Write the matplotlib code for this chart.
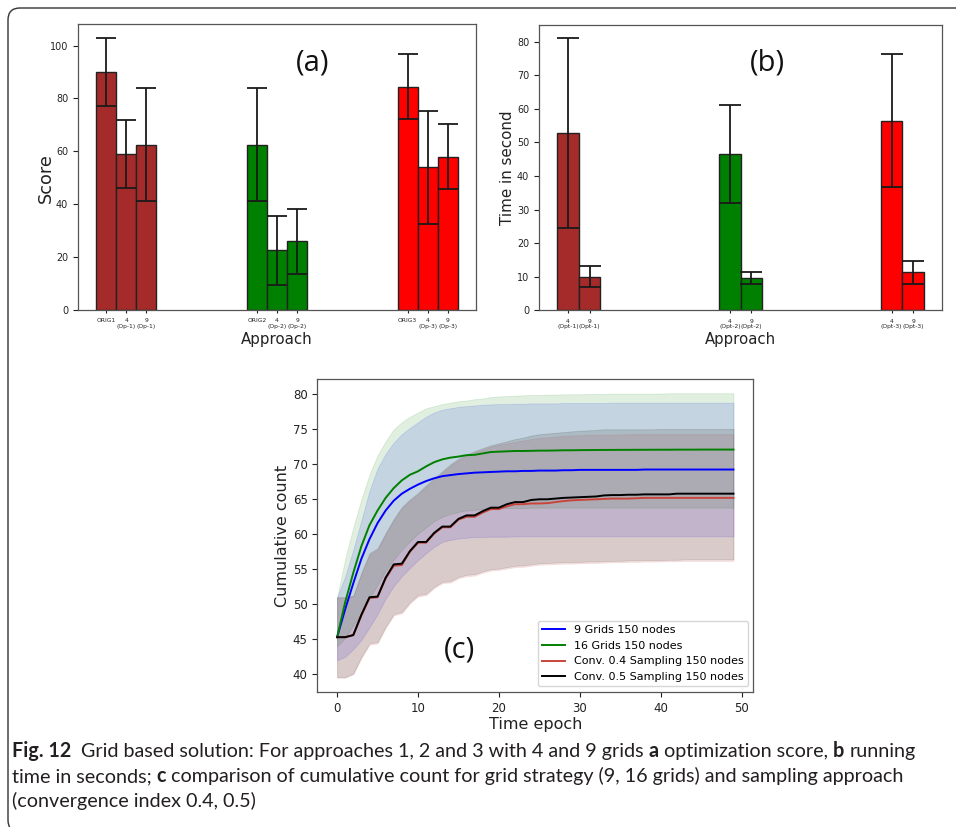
"""Fig. 12: grid based solution, score / running time / cumulative count."""

import matplotlib
matplotlib.use("Agg")
import matplotlib.pyplot as plt
from matplotlib.patches import FancyBboxPatch
import numpy as np

W, H, DPI = 956, 827, 100

# ---- panel (a): optimization score ----
score_labels = ["ORIG1", "4\n(Op-1)", "9\n(Op-1)",
                "ORIG2", "4\n(Op-2)", "9\n(Op-2)",
                "ORIG3", "4\n(Op-3)", "9\n(Op-3)"]
score_vals = [90.0, 59.0, 62.5, 62.5, 22.5, 26.0, 84.5, 54.0, 58.0]
score_err = [13.0, 13.0, 21.4, 21.4, 13.0, 12.3, 12.2, 21.4, 12.2]

# ---- panel (b): running time ----
time_labels = ["4\n(Opt-1)", "9\n(Opt-1)",
               "4\n(Opt-2)", "9\n(Opt-2)",
               "4\n(Opt-3)", "9\n(Opt-3)"]
time_vals = [52.7, 10.0, 46.5, 9.5, 56.4, 11.3]
time_err = [28.3, 3.2, 14.6, 1.8, 19.8, 3.5]

group_colors = ["brown", "green", "red"]

# ---- panel (c): cumulative count ----
epochs = np.arange(50)

blue_mean = [45.3, 49.3, 53.0, 56.5, 59.3, 61.6, 63.4, 64.8, 65.8, 66.5,
             67.1, 67.6, 68.0, 68.3, 68.45, 68.6, 68.7, 68.8, 68.85, 68.9,
             68.95, 69.0, 69.0, 69.05, 69.05, 69.1, 69.1, 69.1, 69.15, 69.15,
             69.2, 69.2, 69.2, 69.2, 69.2, 69.2, 69.2, 69.2, 69.25, 69.25,
             69.25, 69.25, 69.25, 69.25, 69.25, 69.25, 69.25, 69.25, 69.25, 69.25]
blue_hi = [51.0, 54.0, 57.8, 62.0, 66.2, 69.4, 71.5, 73.1, 74.3, 75.2,
           76.0, 76.8, 77.4, 77.8, 78.0, 78.2, 78.3, 78.4, 78.5, 78.55,
           78.6, 78.6, 78.65, 78.65, 78.7, 78.7, 78.7, 78.7, 78.75, 78.75,
           78.75, 78.75, 78.75, 78.75, 78.8, 78.8, 78.8, 78.8, 78.8, 78.8,
           78.8, 78.8, 78.8, 78.8, 78.8, 78.8, 78.8, 78.8, 78.8, 78.8]
blue_lo = [42.0, 42.5, 43.6, 44.9, 46.7, 48.6, 50.8, 52.6, 54.0, 55.2,
           56.3, 57.3, 58.2, 58.9, 59.2, 59.4, 59.5, 59.6, 59.6, 59.65,
           59.65, 59.65, 59.7, 59.7, 59.7, 59.7, 59.7, 59.7, 59.7, 59.7,
           59.7, 59.7, 59.7, 59.7, 59.7, 59.7, 59.7, 59.7, 59.7, 59.7,
           59.7, 59.7, 59.7, 59.7, 59.7, 59.7, 59.7, 59.7, 59.7, 59.7]

green_mean = [45.3, 50.3, 54.5, 58.3, 61.3, 63.4, 65.2, 66.6, 67.7, 68.5,
              69.0, 69.7, 70.3, 70.7, 70.95, 71.1, 71.3, 71.35, 71.55, 71.75,
              71.8, 71.85, 71.9, 71.9, 71.92, 71.95, 71.95, 71.97, 72.0, 72.0,
              72.02, 72.03, 72.04, 72.05, 72.05, 72.06, 72.06, 72.07, 72.07, 72.08,
              72.08, 72.08, 72.09, 72.09, 72.09, 72.1, 72.1, 72.1, 72.1, 72.1]
green_hi = [51.0, 56.5, 61.0, 65.0, 68.5, 71.3, 73.3, 75.0, 76.0, 76.8,
            77.4, 78.0, 78.3, 78.6, 78.8, 79.0, 79.1, 79.3, 79.4, 79.6,
            79.7, 79.75, 79.8, 79.85, 79.9, 79.9, 79.95, 79.95, 80.0, 80.0,
            80.0, 80.05, 80.05, 80.05, 80.1, 80.1, 80.1, 80.1, 80.1, 80.1,
            80.1, 80.15, 80.15, 80.15, 80.15, 80.15, 80.15, 80.15, 80.15, 80.15]
green_lo = [44.0, 45.2, 47.0, 48.8, 50.8, 52.8, 54.8, 56.4, 57.8, 59.0,
            60.1, 61.0, 61.9, 62.5, 62.9, 63.2, 63.4, 63.5, 63.6, 63.7,
            63.75, 63.75, 63.75, 63.75, 63.8, 63.8, 63.8, 63.8, 63.8, 63.8,
            63.8, 63.8, 63.8, 63.8, 63.8, 63.8, 63.8, 63.8, 63.8, 63.8,
            63.8, 63.8, 63.8, 63.8, 63.8, 63.8, 63.8, 63.8, 63.8, 63.8]

red_mean = [45.3, 45.3, 45.6, 48.4, 50.9, 51.0, 53.7, 55.5, 55.6, 57.5,
            58.8, 58.8, 60.1, 61.0, 61.0, 62.1, 62.5, 62.5, 63.1, 63.6,
            63.6, 64.0, 64.3, 64.3, 64.4, 64.4, 64.45, 64.6, 64.75, 64.85,
            64.9, 64.95, 65.0, 65.05, 65.1, 65.1, 65.1, 65.15, 65.2, 65.2,
            65.2, 65.2, 65.2, 65.2, 65.2, 65.2, 65.2, 65.2, 65.2, 65.2]
red_hi = [51.0, 51.0, 51.2, 54.3, 57.1, 57.8, 60.0, 62.0, 63.7, 64.8,
          65.7, 66.8, 67.8, 68.8, 69.8, 70.6, 71.2, 71.7, 72.1, 72.5,
          72.8, 73.0, 73.2, 73.4, 73.6, 73.75, 73.85, 73.95, 74.05, 74.1,
          74.15, 74.2, 74.2, 74.25, 74.25, 74.25, 74.3, 74.3, 74.3, 74.3,
          74.3, 74.3, 74.3, 74.3, 74.3, 74.3, 74.3, 74.3, 74.3, 74.3]
red_lo = [39.5, 39.5, 40.0, 42.3, 44.2, 44.4, 46.6, 48.4, 48.7, 50.1,
          51.1, 51.3, 52.3, 53.0, 53.1, 53.7, 54.0, 54.1, 54.5, 54.8,
          54.9, 55.1, 55.3, 55.35, 55.5, 55.65, 55.7, 55.75, 55.8, 55.8,
          55.85, 55.9, 55.9, 55.95, 56.0, 56.0, 56.05, 56.05, 56.1, 56.1,
          56.1, 56.15, 56.15, 56.2, 56.2, 56.2, 56.2, 56.2, 56.2, 56.2]

black_mean = [45.3, 45.3, 45.6, 48.5, 51.0, 51.1, 53.8, 55.7, 55.8, 57.6,
              58.9, 58.9, 60.2, 61.1, 61.1, 62.2, 62.7, 62.7, 63.3, 63.8,
              63.8, 64.3, 64.6, 64.6, 64.9, 65.0, 65.0, 65.1, 65.2, 65.25,
              65.3, 65.35, 65.4, 65.55, 65.6, 65.6, 65.65, 65.65, 65.7, 65.7,
              65.7, 65.7, 65.8, 65.8, 65.8, 65.8, 65.8, 65.8, 65.8, 65.8]
black_hi = [51.0, 51.0, 51.2, 54.5, 57.3, 58.0, 60.2, 62.2, 63.9, 65.0,
            65.9, 67.0, 68.0, 69.0, 70.0, 70.8, 71.4, 71.9, 72.3, 72.7,
            73.0, 73.3, 73.6, 73.8, 74.1, 74.3, 74.4, 74.5, 74.6, 74.7,
            74.8, 74.85, 74.9, 75.0, 75.0, 75.0, 75.0, 75.0, 75.0, 75.0,
            75.05, 75.05, 75.05, 75.05, 75.05, 75.05, 75.05, 75.05, 75.05, 75.05]
black_lo = [39.6, 39.6, 40.1, 42.5, 44.4, 44.6, 46.8, 48.6, 48.9, 50.3,
            51.3, 51.5, 52.5, 53.2, 53.3, 53.9, 54.2, 54.3, 54.7, 55.0,
            55.1, 55.3, 55.5, 55.55, 55.7, 55.85, 55.9, 55.95, 56.0, 56.0,
            56.05, 56.1, 56.1, 56.15, 56.2, 56.2, 56.25, 56.25, 56.3, 56.3,
            56.3, 56.35, 56.35, 56.4, 56.4, 56.4, 56.4, 56.4, 56.4, 56.4]

series = [
    ("9 Grids 150 nodes", "blue", blue_mean, blue_lo, blue_hi),
    ("16 Grids 150 nodes", "green", green_mean, green_lo, green_hi),
    ("Conv. 0.4 Sampling 150 nodes", "#c9453b", red_mean, red_lo, red_hi),
    ("Conv. 0.5 Sampling 150 nodes", "black", black_mean, black_lo, black_hi),
]

caption_lines = [
    [("Fig. 12", True, 2), ("Grid based solution: For approaches 1, 2 and 3 with 4 and 9 grids", False, 1),
     ("a", True, 1), ("optimization score,", False, 1), ("b", True, 1), ("running", False, 0)],
    [("time in seconds;", False, 1), ("c", True, 1),
     ("comparison of cumulative count for grid strategy (9, 16 grids) and sampling approach", False, 0)],
    [("(convergence index 0.4, 0.5)", False, 0)],
]

TICK_C = "#222222"
SPINE_C = "#555555"


def px_axes(fig, left, top, right, bottom):
    """Axes placed by pixel box of the reference."""
    return fig.add_axes([left / W, 1 - bottom / H, (right - left) / W, (bottom - top) / H])


def style_axes(ax):
    for s in ax.spines.values():
        s.set_color(SPINE_C)
        s.set_linewidth(0.9)
    ax.tick_params(colors=TICK_C, width=0.8, length=3.5)


def grouped_bars(ax, vals, errs, labels, per_group, capsize):
    pos = []
    cols = []
    for k in range(len(group_colors)):
        for j in range(per_group):
            pos.append(k * 1.5 + j * 0.2)
            cols.append(group_colors[k])
    ax.bar(pos, vals, width=0.2, color=cols, edgecolor="#222222", linewidth=1.0,
           yerr=errs, capsize=capsize,
           error_kw=dict(ecolor="#1a1a1a", elinewidth=1.3, capthick=1.3))
    ax.set_xticks(pos)
    ax.set_xticklabels(labels, fontsize=4.3, color=TICK_C, linespacing=1.1)
    ax.tick_params(axis="y", labelsize=6.9)
    ax.tick_params(axis="x", length=2.5)


fig = plt.figure(figsize=(W / DPI, H / DPI), dpi=DPI)

# rounded frame round the whole figure
frame = FancyBboxPatch((8 / DPI, -5 / DPI), 10.0, (832 - 8) / DPI,
                       boxstyle="round,pad=0,rounding_size=0.12",
                       transform=fig.dpi_scale_trans, fill=False,
                       edgecolor="#333333", linewidth=1.0)
fig.add_artist(frame)

# (a)
ax_a = px_axes(fig, 78, 24, 476, 310)
style_axes(ax_a)
grouped_bars(ax_a, score_vals, score_err, score_labels, 3, 7.2)
ax_a.set_ylabel("Score", fontsize=12.7, color=TICK_C)
ax_a.yaxis.set_label_coords(-0.058, 0.46)
ax_a.set_xlabel("Approach", fontsize=10.8, color=TICK_C, labelpad=2)
ax_a.text(0.59, 0.865, "(a)", transform=ax_a.transAxes, ha="center", va="center",
          fontsize=21, family="Open Sans", color="#111111")

# (b)
ax_b = px_axes(fig, 539, 24.7, 942.3, 310.3)
style_axes(ax_b)
grouped_bars(ax_b, time_vals, time_err, time_labels, 2, 7.7)
ax_b.set_ylabel("Time in second", fontsize=10.9, color=TICK_C)
ax_b.yaxis.set_label_coords(-0.060, 0.5)
ax_b.set_xlabel("Approach", fontsize=10.7, color=TICK_C, labelpad=2)
ax_b.text(0.566, 0.866, "(b)", transform=ax_b.transAxes, ha="center", va="center",
          fontsize=21, family="Open Sans", color="#111111")

# (c)
ax_c = px_axes(fig, 317.3, 379, 753.3, 692)
style_axes(ax_c)
for name, col, mean, lo, hi in series:
    ax_c.fill_between(epochs, lo, hi, color=col, alpha=0.12, linewidth=0.6)
for name, col, mean, lo, hi in series:
    ax_c.plot(epochs, mean, color=col, linewidth=1.4, label=name)
ax_c.set_xticks([0, 10, 20, 30, 40, 50])
ax_c.set_yticks([40, 45, 50, 55, 60, 65, 70, 75, 80])
ax_c.tick_params(labelsize=8.5)
ax_c.set_xlabel("Time epoch", fontsize=11.5, color=TICK_C, labelpad=2)
ax_c.set_ylabel("Cumulative count", fontsize=11.5, color=TICK_C)
ax_c.yaxis.set_label_coords(-0.063, 0.5)
leg = ax_c.legend(loc="lower right", fontsize=8.0, frameon=True, fancybox=True,
                  borderaxespad=0.5, handlelength=2.0, labelspacing=0.5)
leg.get_frame().set_edgecolor("#cccccc")
ax_c.text(0.327, 0.134, "(c)", transform=ax_c.transAxes, ha="center", va="center",
          fontsize=21, family="Open Sans", color="#111111")

# caption, pieces chained left to right so bold words sit inline
renderer = fig.canvas.get_renderer()
cap_font = "Lato"


def text_width(s, size, bold):
    t = fig.text(0, 0, s, fontsize=size, family=cap_font,
                 fontweight="bold" if bold else "normal")
    w = t.get_window_extent(renderer=renderer).width
    t.remove()
    return w


def line_width(pieces, size):
    gap = text_width("a a", size, False) - text_width("aa", size, False)
    return sum(text_width(s, size, b) + n * gap for s, b, n in pieces)


size = 10.0
size *= 905.0 / line_width(caption_lines[0], size)
gap = text_width("a a", size, False) - text_width("aa", size, False)
baselines = [757, 782, 807]
for pieces, base in zip(caption_lines, baselines):
    x = 12.0
    for s, bold, nsp in pieces:
        t = fig.text(x / W, 1 - base / H, s, fontsize=size, family=cap_font,
                     fontweight="bold" if bold else "normal", va="baseline",
                     color="#231f20")
        x += t.get_window_extent(renderer=renderer).width + nsp * gap

fig.savefig("out.png", dpi=DPI)
plt.close(fig)
